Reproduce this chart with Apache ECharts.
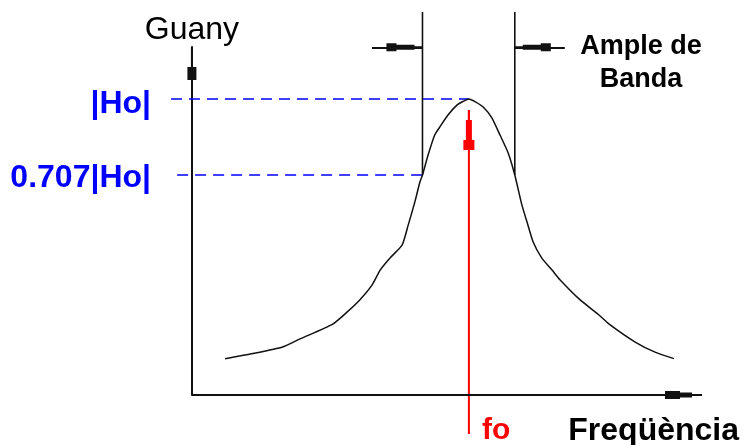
<!DOCTYPE html>
<html>
<head>
<meta charset="utf-8">
<script src="https://cdn.jsdelivr.net/npm/echarts@6/dist/echarts.min.js"></script>
<style>
  html, body { margin: 0; padding: 0; background: #ffffff; }
  #chart { width: 744px; height: 445px; }
</style>
</head>
<body>
<div id="chart"></div>
<script>
// Resonance curve of a band-pass filter (arbitrary frequency units, gain relative to |Ho|)
const freq = [6.5, 12.0, 17.8, 21.2, 27.6, 30.4, 32.9, 35.3, 36.9, 38.8, 41.2, 42.4, 43.7, 44.7,
              45.2, 46.3, 47.6, 48.6, 50.2, 52.0, 53.1, 54.3, 55.5, 57.1, 58.8, 60.4, 62.0, 63.3,
              64.7, 65.7, 66.9, 68.6, 70.6, 72.2, 75.9, 79.8, 81.8, 86.9, 90.8, 94.5];
const gain = [0.00, 0.02, 0.045, 0.076, 0.133, 0.179, 0.226, 0.283, 0.341, 0.387, 0.437, 0.514, 0.603, 0.680,
              0.707, 0.784, 0.861, 0.892, 0.938, 0.977, 0.99, 1.00, 0.99, 0.969, 0.927, 0.861, 0.792, 0.707,
              0.591, 0.526, 0.449, 0.387, 0.341, 0.303, 0.230, 0.168, 0.133, 0.064, 0.025, 0.00];

// Key values of the diagram
const Ho = 1.0;            // peak gain |Ho|
const halfPower = 0.707;   // 0.707|Ho|
const fo = 54.3;           // centre frequency
const f1 = 45.2;           // lower cut-off
const f2 = 63.3;           // upper cut-off
const yTicks = [halfPower, Ho];
const yTickLabels = ['0.707|Ho|', '|Ho|'];
const xTicks = [fo];
const xTickLabels = ['fo'];

// Axis ranges
const xMin = -4.1, xMax = 100;
const yMin = -0.14, yMax = 1.2;

// Extents of the annotation strokes (same units as the axes)
const bandLineTop = 1.335;     // top of the cut-off markers
const bandArrowLevel = 1.199;  // height of the bandwidth arrows
const leftArrowTail = 35.3;
const rightArrowTail = 73.1;
const guideStartHo = -4.1;
const guideStartHalf = -2.9;
const foArrowTip = 0.957;
const foLineBottom = -0.29;

const FONT = "'Liberation Sans', Arial, sans-serif";
const BLUE = '#0000ff';
const RED = '#ff0000';
const INK = '#111111';

// Arrow glyphs (tip pointing up in path space)
const yAxisArrow = 'path://M3.5,0 L5.5,0 L5.5,20 L9,20 L9,33 L0,33 L0,20 L3.5,20 Z';
const xAxisArrow = 'path://M3,0 L5,0 L5,10 L6.5,10 L6.5,22 L8,22 L8,37 L0,37 L0,22 L1.5,22 L1.5,10 L3,10 Z';
const bandArrow = 'path://M3,0 L5,0 L5,8 L6.5,8 L6.5,26 L8,26 L8,36 L0,36 L0,26 L1.5,26 L1.5,8 L3,8 Z';
const foArrow = 'path://M4.5,0 L6.5,0 L6.5,10 L8.5,10 L8.5,30 L11,30 L11,40 L0,40 L0,30 L2.5,30 L2.5,10 L4.5,10 Z';

const chart = echarts.init(document.getElementById('chart'), null, { renderer: 'canvas' });

const option = {
  animation: false,
  backgroundColor: '#ffffff',
  title: {
    text: 'Ample de\nBanda',
    left: 641,
    top: 30,
    padding: 0,
    textAlign: 'center',
    textStyle: { fontFamily: FONT, fontSize: 27, fontWeight: 'bold', color: '#000', lineHeight: 33 }
  },
  grid: { left: 171, right: 42, top: 47, bottom: 50, containLabel: false, outerBoundsMode: 'none' },
  xAxis: {
    type: 'value',
    min: xMin,
    max: xMax,
    name: 'Freqüència',
    nameLocation: 'end',
    nameGap: 37,
    nameTextStyle: {
      fontFamily: FONT, fontSize: 32, fontWeight: 'bold', color: '#000',
      align: 'right', verticalAlign: 'top', padding: [20, 0, 0, 0]
    },
    axisLine: { show: false, onZero: false },
    axisTick: { show: false },
    splitLine: { show: false },
    axisLabel: {
      customValues: xTicks,
      formatter: (v) => xTickLabels[xTicks.indexOf(v)] || '',
      fontFamily: FONT, fontSize: 30, fontWeight: 'bold', color: RED,
      align: 'left', padding: [0, 0, 0, 13], margin: 21
    }
  },
  yAxis: {
    type: 'value',
    min: yMin,
    max: yMax,
    name: 'Guany',
    nameLocation: 'end',
    nameGap: 1,
    nameTextStyle: { fontFamily: FONT, fontSize: 32, color: '#000' },
    axisLine: {
      onZero: true,
      lineStyle: { color: INK, width: 2 },
      symbol: ['none', yAxisArrow],
      symbolSize: [9, 33],
      symbolOffset: [0, -16.5]
    },
    axisTick: { show: false },
    splitLine: { show: false },
    axisLabel: {
      customValues: yTicks,
      formatter: (v) => v === Ho ? '{hi|' + yTickLabels[1] + '}' : '{lo|' + yTickLabels[0] + '}',
      color: BLUE,
      margin: 20,
      rich: {
        hi: { fontFamily: FONT, fontSize: 32, fontWeight: 'bold', color: BLUE, padding: [11, 0, 0, 0] },
        lo: { fontFamily: FONT, fontSize: 32, fontWeight: 'bold', color: BLUE, padding: [6, 0, 0, 0] }
      }
    }
  },
  series: [
    {
      // |Ho| guide
      type: 'line', silent: true, clip: false, symbol: 'none', z: 1,
      lineStyle: { color: BLUE, width: 1.6, type: [11, 7] },
      data: [[guideStartHo, Ho], [fo, Ho]]
    },
    {
      // 0.707|Ho| guide
      type: 'line', silent: true, clip: false, symbol: 'none', z: 1,
      lineStyle: { color: BLUE, width: 1.6, type: [11, 7] },
      data: [[guideStartHalf, halfPower], [f1, halfPower]]
    },
    {
      // response curve, plus the frequency axis line with its arrow
      type: 'line', silent: true, clip: false, symbol: 'none', smooth: 0.2, z: 3,
      lineStyle: { color: INK, width: 1.5 },
      data: freq.map((f, i) => [f, gain[i]]),
      markLine: {
        silent: true,
        animation: false,
        label: { show: false },
        lineStyle: { color: INK, width: 2, type: 'solid' },
        symbol: ['none', xAxisArrow],
        symbolSize: [8, 37],
        symbolOffset: [0, [0, 18.5]],
        data: [
          [{ coord: [0, yMin] }, { coord: [xMax, yMin] }]
        ]
      }
    },
    {
      // lower cut-off marker with bandwidth arrows
      type: 'line', silent: true, clip: false, symbol: 'none', z: 2,
      lineStyle: { color: INK, width: 1.6 },
      data: [[f1, halfPower], [f1, bandLineTop]],
      markLine: {
        silent: true,
        animation: false,
        label: { show: false },
        lineStyle: { color: INK, width: 1.8, type: 'solid' },
        symbol: ['none', bandArrow],
        symbolSize: [8, 36],
        symbolOffset: [0, [0, 18]],
        data: [
          [{ coord: [leftArrowTail, bandArrowLevel] }, { coord: [f1, bandArrowLevel] }],
          [{ coord: [rightArrowTail, bandArrowLevel] }, { coord: [f2, bandArrowLevel] }]
        ]
      }
    },
    {
      // upper cut-off marker
      type: 'line', silent: true, clip: false, symbol: 'none', z: 2,
      lineStyle: { color: INK, width: 1.6 },
      data: [[f2, halfPower], [f2, bandLineTop]]
    },
    {
      // centre-frequency arrow
      type: 'line', silent: true, clip: false, z: 4,
      showSymbol: true,
      lineStyle: { color: RED, width: 2 },
      itemStyle: { color: RED },
      data: [
        { value: [fo, foLineBottom], symbol: 'none' },
        { value: [fo, foArrowTip], symbol: foArrow, symbolSize: [11, 40], symbolOffset: [0, 20] }
      ]
    }
  ]
};

chart.setOption(option);
</script>
</body>
</html>
